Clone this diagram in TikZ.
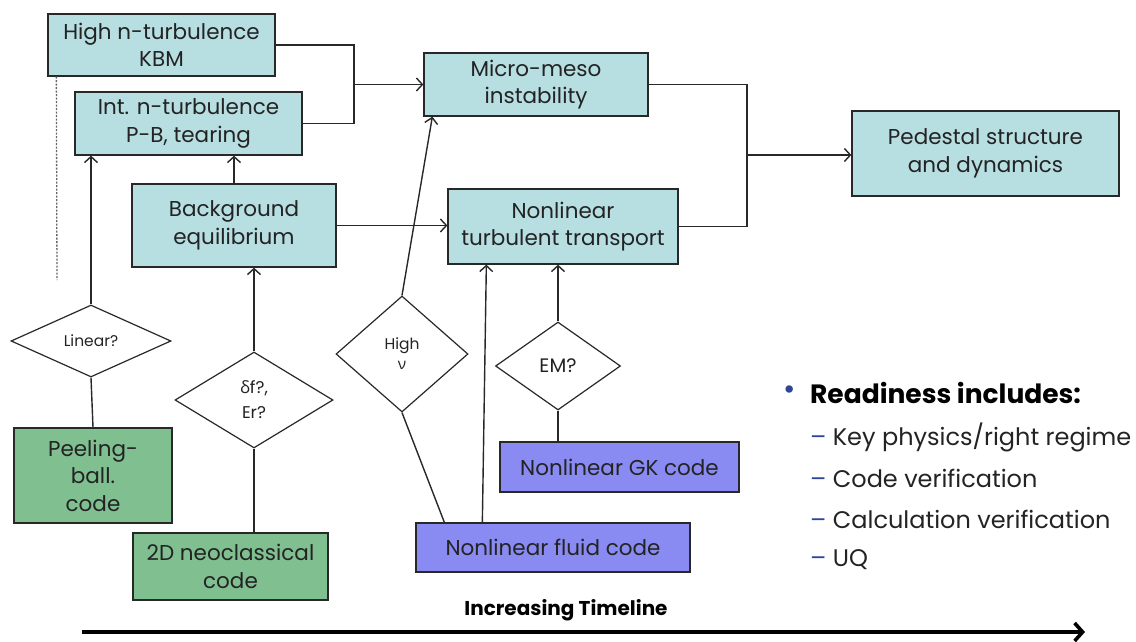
\documentclass[tikz,border=0pt]{standalone}
\usepackage{fontspec}
\setmainfont{Poppins}
\newfontfamily\grk{Open Sans}
\usetikzlibrary{shapes.geometric,arrows.meta}
\definecolor{tealbox}{RGB}{183,223,226}
\definecolor{greenbox}{RGB}{128,191,143}
\definecolor{bluebox}{RGB}{138,138,243}
\definecolor{edgecol}{RGB}{40,40,40}
\definecolor{txt}{RGB}{35,35,35}
\definecolor{bulletcol}{RGB}{45,70,150}
\begin{document}
\begin{tikzpicture}[x=1pt,y=-1pt,
  box/.style={draw=edgecol, line width=1.3pt, rectangle, inner sep=0pt,
    align=center, text=txt, font=\fontsize{21.5}{27.5}\selectfont},
  phys/.style={box, fill=tealbox},
  codebox/.style={box, fill=greenbox},
  nlbox/.style={box, fill=bluebox},
  query/.style={draw=edgecol, line width=1.2pt, diamond, fill=white,
    inner sep=0pt, align=center, text=txt},
  link/.style={draw=edgecol, line width=1.4pt},
  arr/.style={link, -{Straight Barb[length=6pt,width=13pt]}},
  note/.style={anchor=west, inner sep=0pt, text=txt}
]
\useasboundingbox (0,0) rectangle (1136,642);

% physics boxes
\node[phys, minimum width=227pt, minimum height=62pt] (hi) at (161.5,45) {High n-turbulence\\KBM};
\node[phys, minimum width=227pt, minimum height=63pt] (int) at (188.5,123.5) {Int. n-turbulence\\P-B, tearing};
\node[phys, minimum width=204pt, minimum height=83pt] (bg) at (234,225.5) {Background\\equilibrium};
\node[phys, minimum width=224pt, minimum height=63pt] (mm) at (536,84.5) {Micro-meso\\instability};
\node[phys, minimum width=230pt, minimum height=75pt] (nt) at (563,226.5) {Nonlinear\\turbulent transport};
\node[phys, minimum width=267pt, minimum height=85pt] (ped) at (985.5,153.5) {Pedestal structure\\and dynamics};

% code boxes
\node[codebox, minimum width=158pt, minimum height=95pt] (peel) at (93,475.5) {Peeling-\\ball.\\code};
\node[codebox, minimum width=195pt, minimum height=67pt] (neo) at (230.5,566.5) {2D neoclassical\\code};
\node[nlbox, minimum width=274pt, minimum height=49pt] (fluid) at (553,547.5) {Nonlinear fluid code};
\node[nlbox, minimum width=239pt, minimum height=50pt] (gk) at (619.5,467) {Nonlinear GK code};

% decision diamonds
\node[query, minimum width=160pt, minimum height=72pt, font=\fontsize{15.5}{18}\selectfont] (lin) at (91,341) {Linear?};
\node[query, minimum width=158pt, minimum height=96pt, font=\fontsize{17}{25}\selectfont] (df) at (254,400) {{\grk δ}f?,\\Er?};
\node[query, minimum width=132pt, minimum height=116pt, font=\fontsize{15.5}{20}\selectfont] (hnu) at (402,354) {High\\{\grk ν}};
\node[query, minimum width=125pt, minimum height=88pt, font=\fontsize{19.5}{22}\selectfont] (em) at (558,366) {EM?};

% junctions
\coordinate (jA) at (354,84.5);
\coordinate (jB) at (747,155);

% connectors
\draw[link] (hi.east) -| (jA) |- (int.east);
\draw[arr] (jA) -- (mm.west);
\draw[arr] (bg.north) -- (bg.north |- int.south);
\draw[arr] (lin.north) -- (lin.north |- int.south);
\draw[link] (lin.south) -- (peel.north);
\draw[arr] (bg.east) -- (bg.east -| nt.west);
\draw[arr] (df.north) -- (df.north |- bg.south);
\draw[link] (df.south) -- (df.south |- neo.north);
\draw[arr] (hnu.north) -- ([xshift=9pt]mm.south west);
\draw[link] (hnu.south) -- ([xshift=29pt]fluid.north west);
\draw[arr] ([xshift=67pt]fluid.north west) -- ([xshift=39pt]nt.south west);
\draw[arr] (em.north) -- (em.north |- nt.south);
\draw[link] (em.south) -- (em.south |- gk.north);
\draw[link] (mm.east) -| (jB) |- (nt.east);
\draw[arr] (jB) -- (jB -| ped.west);

% dashed guide
\coordinate (dtop) at ([xshift=9pt]hi.south west);
\coordinate (dbot) at (57,280);
\draw[gray!80!black, line width=1.3pt, dash pattern=on 2pt off 1.5pt] (dtop) -- (dbot);

% timeline
\coordinate (tl0) at (82,632);
\coordinate (tl1) at (1085,632);
\draw[black, line width=3.6pt, -{Straight Barb[length=8pt,width=18pt]}] (tl0) -- (tl1);
\node[inner sep=0pt, text=black, font=\bfseries\fontsize{20}{24}\selectfont] (tll) at (566,610) {Increasing Timeline};

% readiness list
\node[note, text=bulletcol, font=\fontsize{30}{30}\selectfont] (bul) at (783,393) {•};
\node[note, text=black, font=\bfseries\fontsize{26.5}{30}\selectfont] (rd) at (810,393) {Readiness includes:};
\node[note, font=\fontsize{24}{28}\selectfont] (r1) at (810,437) {{\color{bulletcol}–} Key physics/right regime};
\node[note, font=\fontsize{24}{28}\selectfont] (r2) at (810,478) {{\color{bulletcol}–} Code verification};
\node[note, font=\fontsize{24}{28}\selectfont] (r3) at (810,519) {{\color{bulletcol}–} Calculation verification};
\node[note, font=\fontsize{24}{28}\selectfont] (r4) at (810,560) {{\color{bulletcol}–} UQ};
\end{tikzpicture}
\end{document}
